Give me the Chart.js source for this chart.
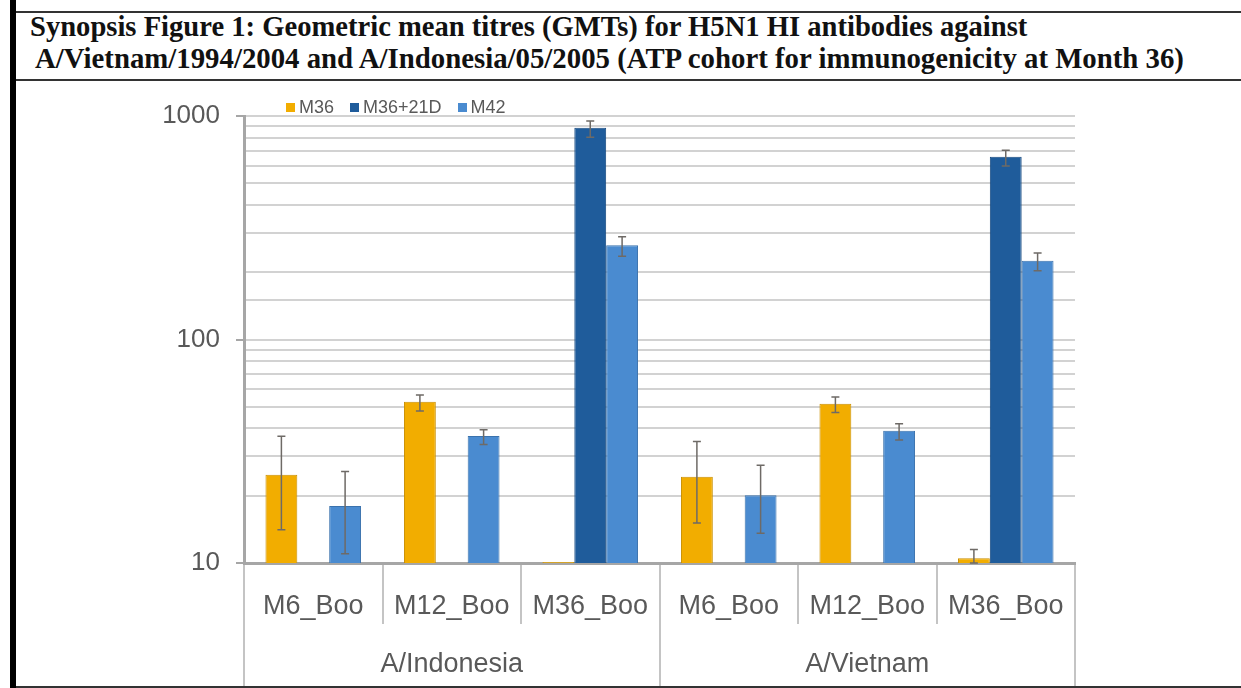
<!DOCTYPE html>
<html>
<head>
<meta charset="utf-8">
<script src="https://cdn.jsdelivr.net/npm/chart.js@4.4.1/dist/chart.umd.min.js"></script>
<style>
  body { margin: 0; background: #fff; width: 1241px; height: 688px; overflow: hidden; position: relative; font-family: "Liberation Sans", Arial, sans-serif; }
  #leftbar { position: absolute; left: 10px; top: 0; width: 6px; height: 688px; background: #000; }
  #rule1 { position: absolute; left: 16px; top: 11px; width: 1225px; height: 2px; background: #333; }
  #rule2 { position: absolute; left: 16px; top: 79px; width: 1225px; height: 2px; background: #333; }
  #rule3 { position: absolute; left: 16px; top: 686px; width: 1225px; height: 2px; background: #333; }
  .tline { position: absolute; font-family: "Liberation Serif", "Times New Roman", serif; font-weight: bold; line-height: 30px; color: #111; white-space: nowrap; }
  #legend { position: absolute; left: 286px; top: 97px; display: flex; font-size: 18px; color: #595959; line-height: 20px; }
  #legend span.item { display: flex; align-items: center; margin-right: 16px; }
  #legend span.box { width: 9px; height: 9px; margin-right: 4px; }
  #wrap { position: absolute; left: 16px; top: 81px; width: 1225px; height: 605px; }
</style>
</head>
<body>
<div id="leftbar"></div>
<div id="rule1"></div>
<div class="tline" style="left:30px;top:12px;font-size:28.6px">Synopsis Figure 1: Geometric mean titres (GMTs) for H5N1 HI antibodies against</div>
<div class="tline" style="left:35px;top:43px;font-size:28.8px">A/Vietnam/1994/2004 and A/Indonesia/05/2005 (ATP cohort for immunogenicity at Month 36)</div>
<div id="rule2"></div>
<div id="wrap"><canvas id="chart"></canvas></div>
<div id="legend"></div>
<div id="rule3"></div>
<script>
const categories = ['M6_Boo', 'M12_Boo', 'M36_Boo', 'M6_Boo', 'M12_Boo', 'M36_Boo'];
const groups = ['A/Indonesia', 'A/Vietnam'];
const yTicks = [10, 100, 1000];

// GMT values, order: Indonesia M6, M12, M36, Vietnam M6, M12, M36
const m36 = [24.8, 52.7, 10.1, 24.3, 51.6, 10.5];
const m36Low = [14.1, 47.9, null, 15.1, 47.1, 10.0];
const m36High = [36.9, 56.4, null, 35.0, 55.3, 11.5];

const m36d21 = [null, null, 887, null, null, 658];
const m36d21Low = [null, null, 803, null, null, 598];
const m36d21High = [null, null, 950, null, null, 703];

const m42 = [18.0, 37.0, 264, 20.1, 39.1, 225];
const m42Low = [11.0, 33.9, 236, 13.6, 35.5, 203];
const m42High = [25.7, 39.5, 288, 27.4, 42.0, 244];

const errorBars = {
  id: 'errorBars',
  afterDatasetsDraw(chart) {
    const ctx = chart.ctx;
    const y = chart.scales.y;
    ctx.save();
    ctx.strokeStyle = '#6e6a66';
    ctx.lineWidth = 1.5;
    chart.data.datasets.forEach((ds, i) => {
      chart.getDatasetMeta(i).data.forEach((bar, j) => {
        if (ds.high[j] == null) return;
        const yh = y.getPixelForValue(ds.high[j]);
        const yl = y.getPixelForValue(ds.low[j]);
        ctx.beginPath();
        ctx.moveTo(bar.x, yh); ctx.lineTo(bar.x, yl);
        ctx.moveTo(bar.x - 4, yh); ctx.lineTo(bar.x + 4, yh);
        ctx.moveTo(bar.x - 4, yl); ctx.lineTo(bar.x + 4, yl);
        ctx.stroke();
      });
    });
    ctx.restore();
  }
};

const datasets = [
  { label: 'M36', data: m36, low: m36Low, high: m36High, backgroundColor: '#f2ad00', borderColor: '#c98f00', borderWidth: 1 },
  { label: 'M36+21D', data: m36d21, low: m36d21Low, high: m36d21High, backgroundColor: '#1f5c9b', borderColor: '#174a80', borderWidth: 1 },
  { label: 'M42', data: m42, low: m42Low, high: m42High, backgroundColor: '#4a8bd0', borderColor: '#3a72ad', borderWidth: 1 }
];

const legend = document.getElementById('legend');
datasets.forEach(ds => {
  const item = document.createElement('span');
  item.className = 'item';
  item.innerHTML = '<span class="box" style="background:' + ds.backgroundColor + '"></span>' + ds.label;
  legend.appendChild(item);
});

new Chart(document.getElementById('chart'), {
  type: 'bar',
  data: { labels: categories, datasets: datasets },
  plugins: [errorBars],
  options: {
    responsive: true,
    maintainAspectRatio: false,
    animation: false,
    layout: { padding: { top: 35, right: 166, left: 0, bottom: 0 } },
    datasets: { bar: { categoryPercentage: 0.69, barPercentage: 1.0 } },
    plugins: { legend: { display: false }, tooltip: { enabled: false } },
    scales: {
      y: {
        type: 'logarithmic',
        min: 10,
        max: 1000,
        border: { color: '#a6a6a6', width: 3 },
        grid: {
          color: '#d2d2d2',
          lineWidth: 2,
          tickLength: 8,
          tickColor: ctx => yTicks.includes(ctx.tick && ctx.tick.value) ? '#a6a6a6' : 'rgba(0,0,0,0)'
        },
        ticks: {
          autoSkip: false,
          padding: 16,
          color: '#595959',
          font: { size: 26 },
          callback: v => yTicks.includes(v) ? String(v) : ''
        },
        afterFit: s => { s.width = 228; }
      },
      x: {
        type: 'category',
        offset: true,
        border: { color: '#a6a6a6', width: 3 },
        grid: { offset: true, drawOnChartArea: false, tickLength: 61, color: '#c4c4c4', lineWidth: 2 },
        ticks: { autoSkip: false, maxRotation: 0, padding: -34, color: '#595959', font: { size: 27 } },
        afterFit: s => { s.height = 61; }
      },
      x2: {
        type: 'category',
        labels: groups,
        position: 'bottom',
        offset: true,
        border: { display: false },
        grid: { offset: true, drawOnChartArea: false, tickLength: 62, color: '#c4c4c4', lineWidth: 2 },
        ticks: { autoSkip: false, maxRotation: 0, padding: -38, color: '#595959', font: { size: 27 } },
        afterFit: s => { s.height = 62; }
      }
    }
  }
});
</script>
</body>
</html>
